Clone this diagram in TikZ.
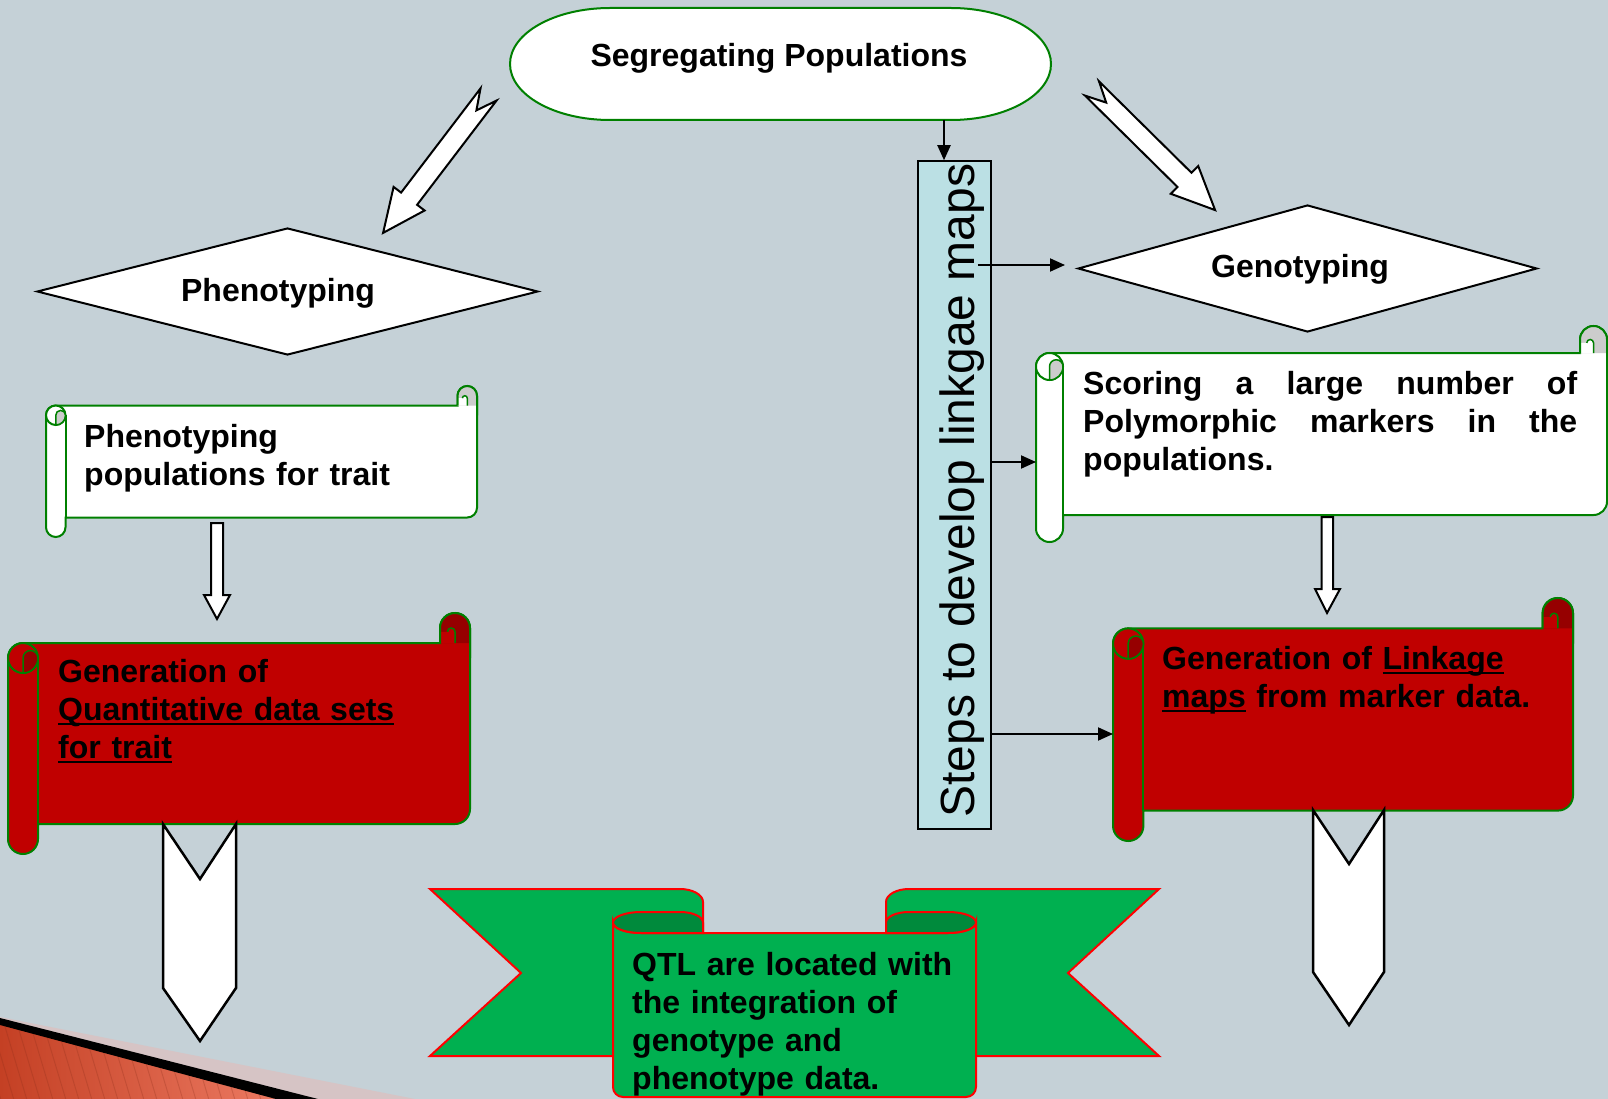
\documentclass[tikz,border=0pt]{standalone}
\usepackage{fontspec}
\setmainfont{Liberation Sans}
\usetikzlibrary{shapes.geometric,arrows.meta}
\definecolor{bg}{RGB}{197,209,215}
\definecolor{scrgreen}{RGB}{0,128,0}
\definecolor{scrred}{RGB}{192,0,0}
\definecolor{scrdarkred}{RGB}{150,0,0}
\definecolor{scrgray}{RGB}{204,204,204}
\definecolor{stepcyan}{RGB}{187,224,228}
\definecolor{ribgreen}{RGB}{0,176,80}
\definecolor{ribdark}{RGB}{0,138,60}
\definecolor{ribred}{RGB}{255,0,0}
\definecolor{decopink}{RGB}{214,196,197}
\definecolor{decored}{RGB}{196,64,36}
\definecolor{decolight}{RGB}{236,122,98}

\newcommand\myul[1]{\leavevmode\setbox0\hbox{#1}\rlap{\rule[-5pt]{\wd0}{2pt}}\box0\relax}

% scroll: left, top, right, bottom, curl size, fill, dark fill
\newcommand\scrollshape[7]{%
  \pgfmathsetmacro\scL{#1}\pgfmathsetmacro\scT{#2}%
  \pgfmathsetmacro\scR{#3}\pgfmathsetmacro\scB{#4}%
  \pgfmathsetmacro\scc{#5/2}\pgfmathsetmacro\sch{#5}%
  \pgfmathsetmacro\scTT{#2+#5}\pgfmathsetmacro\scBB{#4-#5}%
  \path[draw=scrgreen, line width=2pt, fill=#6]
    ({\scL},{\scTT+\scc}) -- ({\scL},{\scB-\scc})
    arc[start angle=180, end angle=0, radius=\scc]
    -- ({\scL+\sch},{\scBB}) -- ({\scR-\scc},{\scBB})
    arc[start angle=90, end angle=0, radius=\scc]
    -- ({\scR},{\scT+\scc})
    arc[start angle=0, end angle=-180, radius=\scc]
    -- ({\scR-\sch},{\scTT}) -- ({\scL+\scc},{\scTT})
    arc[start angle=-90, end angle=-180, radius=\scc]
    -- cycle;
  % left roll
  \draw[scrgreen, line width=2pt] ({\scL+\sch},{\scTT+\scc}) -- ({\scL+\sch},{\scBB});
  \draw[scrgreen, line width=2pt, fill=#6] ({\scL+\scc},{\scTT+\scc}) circle[radius=\scc];
  \draw[scrgreen, line width=1.5pt, fill=#7] ({\scL+\scc},{\scTT+\scc}) -- ({\scL+\scc},{\scTT+\sch})
    arc[start angle=90, end angle=0, radius=\scc]
    arc[start angle=0, end angle=-180, radius=\scc/2] -- cycle;
  % right curl
  \fill[#7] ({\scR-\sch},{\scTT}) -- ({\scR-\sch},{\scT+\scc})
    arc[start angle=180, end angle=360, radius=\scc] -- ({\scR},{\scTT}) -- cycle;
  \fill[#6] ({\scR-\sch},{\scTT}) -- ({\scR-\sch},{\scT+1.25*\scc}) -- ({\scR-1.5*\scc},{\scT+1.25*\scc})
    arc[start angle=180, end angle=360, radius=\scc/4] -- ({\scR-\scc},{\scTT}) -- cycle;
  \draw[scrgreen, line width=1.5pt] ({\scR-1.5*\scc},{\scT+1.25*\scc})
    arc[start angle=180, end angle=360, radius=\scc/4] -- ({\scR-\scc},{\scTT});
  \draw[scrgreen, line width=2pt] ({\scR-\sch},{\scTT}) -- ({\scR-\sch},{\scT+\scc})
    arc[start angle=180, end angle=360, radius=\scc] -- ({\scR},{\scTT+\scc});
}

\begin{document}
\begin{tikzpicture}[x=1pt,y=-1pt,
  conn/.style={line width=2pt, -{Triangle[length=15pt,width=13pt]}},
  lbl/.style={inner sep=0pt, font=\fontsize{32}{38}\selectfont\bfseries},
  blk/.style={draw=black, line width=2.5pt, fill=white, line join=miter},
  helper/.style={inner sep=0pt, outer sep=0pt, draw=none}]
\fill[bg] (0,0) rectangle (1608,1099);
\useasboundingbox (0,0) rectangle (1608,1099);

% bottom-left decoration
\fill[decopink] (0,1017) -- (415,1099) -- (0,1099) -- cycle;
\begin{scope}
  \clip (0,1024) -- (278,1099) -- (0,1099) -- cycle;
  \shade[left color=decored, right color=decolight] (0,1015) rectangle (280,1099);
  \foreach \i in {-120,-107,...,300} \draw[decored!70!black, opacity=0.25, line width=1pt] (\i,1000) -- (\i+33,1110);
\end{scope}
\fill[black] (0,1018) -- (318,1099) -- (276,1099) -- (0,1025) -- cycle;

% top stadium
\node[helper, minimum width=541pt, minimum height=112pt] (seg) at (780.5,64) {};
\draw[draw=scrgreen, line width=2pt, fill=white]
  (610,8) -- (951,8) arc[start angle=-90, end angle=90, x radius=100, y radius=56]
  -- (610,120) arc[start angle=90, end angle=270, x radius=100, y radius=56] -- cycle;
\node[lbl, anchor=base] at (779,66.5) {Segregating Populations};

% diamonds
\node[diamond, draw=black, line width=2pt, fill=white, minimum width=501pt, minimum height=127pt, inner sep=0pt] (pheno) at (287.5,291.5) {};
\node[lbl, anchor=base] at (278,301) {Phenotyping};
\node[diamond, draw=black, line width=2pt, fill=white, minimum width=459pt, minimum height=127pt, inner sep=0pt] (geno) at (1307.5,268.5) {};
\node[lbl, anchor=base] at (1300,277) {Genotyping};

% big diagonal block arrows
\draw[blk, line width=2pt] (496.5,100.6) -- (417.1,204.8) -- (424.6,210.5) -- (383.1,232.9) -- (393.6,186.9) -- (401.1,192.6) -- (480.5,88.4) -- (476.4,110.4) -- cycle;
\draw[blk, line width=2pt] (1085.0,95.6) -- (1177.5,187.0) -- (1170.8,193.8) -- (1215.1,210.1) -- (1198.2,166.0) -- (1191.5,172.8) -- (1099.0,81.4) -- (1106.2,102.6) -- cycle;

% scrolls
\node[helper, minimum width=431pt, minimum height=151pt] (phscroll) at (261.5,461.5) {};
\scrollshape{46}{386}{477}{537}{19.5}{white}{scrgray}
\node[lbl, anchor=base west, text width=400pt, align=left] at (84,447) {Phenotyping\\populations for trait};

\node[helper, minimum width=571pt, minimum height=216pt] (score) at (1321.5,434) {};
\scrollshape{1036}{326}{1607}{542}{27}{white}{scrgray}
\node[lbl, anchor=base west, text width=494pt, align=left] at (1083,394)
  {\makebox[494pt][l]{Scoring\hfill a\hfill large\hfill number\hfill of}\\\makebox[494pt][l]{Polymorphic\hfill markers\hfill in\hfill the}\\populations.};

\node[helper, minimum width=462pt, minimum height=241pt] (redL) at (239,733.5) {};
\scrollshape{8}{613}{470}{854}{30}{scrred}{scrdarkred}
\node[lbl, anchor=base west, text width=400pt, align=left] at (58,682)
  {Generation of\\\myul{Quantitative data sets}\\\myul{for trait}};

\node[helper, minimum width=460pt, minimum height=243pt] (redR) at (1343,719.5) {};
\scrollshape{1113}{598}{1573}{841}{30.4}{scrred}{scrdarkred}
\node[lbl, anchor=base west, text width=400pt, align=left] at (1162,669)
  {Generation of \myul{Linkage}\\\myul{maps} from marker data.};

% small down block arrows
\draw[blk, line width=2pt] (211,523) -- (223,523) -- (223,595) -- (230,595) -- (217,619) -- (204,595) -- (211,595) -- cycle;
\draw[blk, line width=2pt] (1321.5,517) -- (1333,517) -- (1333,589) -- (1340,589) -- (1327,613) -- (1315,589) -- (1321.5,589) -- cycle;

% chevrons
\draw[blk] (163,824) -- (200,879) -- (236,824) -- (236,988) -- (200,1041) -- (163,988) -- cycle;
\draw[blk] (1313,810) -- (1349,864) -- (1384,810) -- (1384,972) -- (1349,1025) -- (1313,972) -- cycle;

% steps box
\node[draw=black, line width=1.5pt, fill=stepcyan, minimum width=73pt, minimum height=668pt, inner sep=0pt] (steps) at (954.5,495) {};
\node[rotate=90, anchor=base, inner sep=0pt, font=\fontsize{48}{56}\selectfont] at (974,490.5) {Steps to develop linkgae maps};

% connectors
\draw[conn] ([xshift=-10.5pt]steps.north |- seg.south) -- ([xshift=-10.5pt]steps.north);
\path ([xshift=-14pt]steps.east) coordinate (sE2);
\path ([xshift=-12pt]geno.west) coordinate (gW2);
\draw[conn] (sE2 |- 0,265) -- (gW2 |- 0,265);
\draw[conn] (steps.east |- 0,462) -- (score.west |- 0,462);
\draw[conn] (steps.east |- 0,734) -- (redR.west |- 0,734);

% ribbon
\draw[draw=ribred, line width=2pt, fill=ribgreen, line join=miter]
  (430,889) -- (680,889) arc[start angle=-90, end angle=0, x radius=23, y radius=13]
  -- (703,1056) -- (430,1056) -- (521,973) -- cycle;
\draw[draw=ribred, line width=2pt, fill=ribgreen, line join=miter]
  (1159,889) -- (909,889) arc[start angle=-90, end angle=-180, x radius=23, y radius=13]
  -- (886,1056) -- (1159,1056) -- (1068,973) -- cycle;
\node[helper, minimum width=363pt, minimum height=185pt] (qtl) at (794.5,1004.5) {};
\draw[draw=ribred, line width=2pt, fill=ribgreen]
  (613,922.5) -- (613,1087) arc[start angle=180, end angle=90, radius=10]
  -- (966,1097) arc[start angle=90, end angle=0, radius=10]
  -- (976,922.5) arc[start angle=0, end angle=90, x radius=28, y radius=10.5]
  -- (641,933) arc[start angle=90, end angle=180, x radius=28, y radius=10.5] -- cycle;
\draw[draw=ribred, line width=2pt, fill=ribdark]
  (703,933) -- (641,933) arc[start angle=90, end angle=270, x radius=28, y radius=10.5]
  -- (680,912) arc[start angle=-90, end angle=0, x radius=23, y radius=10.5] -- cycle;
\draw[draw=ribred, line width=2pt, fill=ribdark]
  (886,933) -- (948,933) arc[start angle=90, end angle=-90, x radius=28, y radius=10.5]
  -- (909,912) arc[start angle=-90, end angle=-180, x radius=23, y radius=10.5] -- cycle;
\node[lbl, anchor=base west, text width=340pt, align=left] at (632,975)
  {QTL are located with\\the integration of\\genotype and\\phenotype data.};
\end{tikzpicture}
\end{document}
